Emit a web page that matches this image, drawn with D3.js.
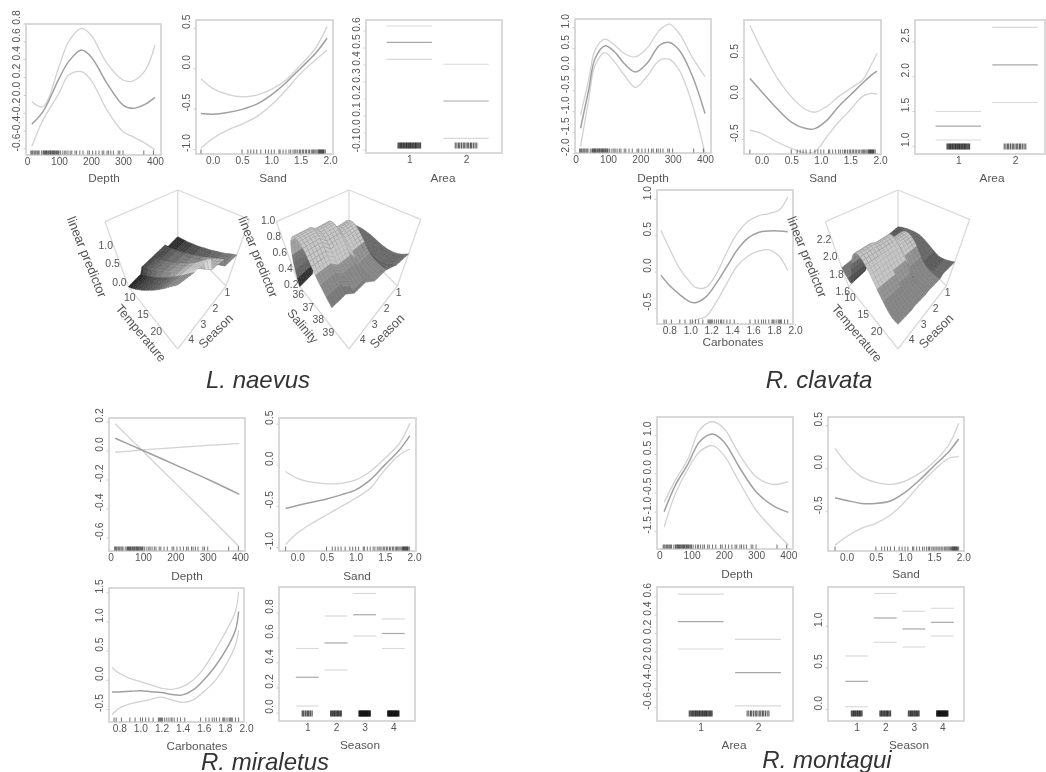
<!DOCTYPE html>
<html><head><meta charset="utf-8">
<script src="https://cdn.jsdelivr.net/npm/d3@7"></script>
<style>html,body{margin:0;padding:0;background:#fff}svg{display:block;filter:blur(.7px)}text{font-family:"Liberation Sans",Arial,sans-serif;fill:#555}</style>
</head><body><svg id="c" width="1046" height="772"></svg>
<script>
// ---------- rug values (observations along each covariate)
const depthRug=[12,15,18,22,25,28,32,35,38,45,50,52,55,57,59,61,63,66,68,71,73,75,78,80,83,85,87,90,92,95,98,100,105,112,118,122,128,135,140,150,155,165,175,190,195,205,215,225,235,240,250,255,262,270,285,290,300,365,395];
const sandRug=[-0.2,.5,.6,.65,.7,.75,.82,.9,.95,1.0,1.05,1.13,1.15,1.2,1.25,1.3,1.33,1.37,1.4,1.42,1.45,1.48,1.5,1.53,1.55,1.58,1.6,1.63,1.65,1.68,1.7,1.72,1.74,1.76,1.78,1.8,1.81,1.82,1.83,1.84,1.85,1.86,1.87,1.88,1.89,1.9,1.92];
const carbRug=[.75,.77,.82,.9,.95,1.0,1.02,1.05,1.08,1.12,1.17,1.18,1.19,1.2,1.21,1.23,1.25,1.27,1.29,1.3,1.32,1.35,1.38,1.42,1.57,1.62,1.65,1.68,1.7,1.72,1.75,1.78,1.79,1.8,1.82,1.84,1.85,1.86,1.87,1.9,1.93];
const rugDense=[-.2,-.185,-.17,-.155,-.14,-.13,-.115,-.1,-.09,-.075,-.06,-.05,-.035,-.02,-.01,.005,.02,.03,.045,.06,.07,.085,.1,.11,.125,.14,.155,.17,.185,.2];
const rugMid=[-.19,-.16,-.13,-.11,-.08,-.05,-.03,0,.03,.05,.08,.1,.13,.16,.19];
const rugSparse=[-.18,-.15,-.12,-.07,-.04,.01,.04,.09,.12,.17];

// ---------- L. naevus
const lnDepthX=[15,50,100,130,170,200,250,300,330,370,400];
const lnDepthFit=[-.40,-.26,.11,.30,.43,.355,.057,-.186,-.223,-.175,-.10];
const lnDepthUp=[-.15,-.205,.243,.523,.672,.598,.28,.094,.083,.206,.486];
const lnDepthLo=[-.652,-.354,-.055,.15,.187,.094,-.242,-.484,-.54,-.615,-.69];
const lnSandX=[-.2,0,.25,.5,.75,1,1.25,1.5,1.75,1.95];
const lnSandFit=[-.64,-.65,-.63,-.59,-.525,-.41,-.26,-.08,.10,.29];
const lnSandUp=[-.21,-.33,-.405,-.434,-.413,-.343,-.227,-.04,.165,.434];
const lnSandLo=[-1.07,-.95,-.847,-.773,-.68,-.537,-.35,-.145,.02,.145];
const lnAreaFit=[.492,.147], lnAreaUp=[.588,.363], lnAreaLo=[.392,-.073];

// ---------- R. clavata
const rcDepthX=[15,40,60,90,120,150,185,220,260,290,320,360,400];
const rcDepthFit=[-1.56,-.65,.10,.40,.26,-.02,-.22,-.02,.42,.48,.30,-.30,-1.21];
const rcDepthUp=[-1.25,-.41,.30,.56,.42,.22,.14,.34,.78,.92,.70,.14,-.33];
const rcDepthLo=[-2.0,-.89,-.06,.24,.02,-.29,-.59,-.33,.06,.08,-.17,-.97,-2.16];
const rcSandX=[-.2,0,.25,.5,.75,.9,1.1,1.3,1.5,1.7,1.85,1.95];
const rcSandFit=[.16,0,-.20,-.37,-.45,-.45,-.35,-.18,-.04,.10,.20,.25];
const rcSandUp=[.81,.51,.18,-.06,-.22,-.25,-.18,-.06,.04,.14,.325,.47];
const rcSandLo=[-.47,-.51,-.61,-.69,-.75,-.73,-.55,-.37,-.22,-.06,-.02,-.03];
const rcAreaFit=[1.19,2.07], rcAreaUp=[1.40,2.61], rcAreaLo=[.99,1.53];
const rcCarbX=[.72,.8,.9,1,1.05,1.15,1.25,1.35,1.45,1.55,1.65,1.75,1.85,1.93];
const rcCarbFit=[-.14,-.28,-.41,-.51,-.52,-.44,-.25,-.02,.21,.37,.45,.47,.47,.46];
const rcCarbUp=[.48,.23,-.05,-.24,-.31,-.31,-.12,.18,.44,.60,.68,.71,.76,.94];
const rcCarbLo=[-.85,-.9,-.9,-.82,-.76,-.71,-.51,-.25,-.01,.12,.19,.21,.12,-.08];

// ---------- R. miraletus
const rmDepthX=[14,100,200,300,398];
const rmDepthFit=[.04,-.045,-.144,-.243,-.347];
const rmDepthUp=[-.057,-.04,-.025,-.01,.005];
const rmDepthLo=[.14,-.05,-.27,-.49,-.71];
const rmSandX=[-.2,0,.25,.5,.75,1,1.25,1.5,1.75,1.93];
const rmSandFit=[-.61,-.575,-.534,-.494,-.445,-.385,-.263,-.08,.10,.275];
const rmSandUp=[-.16,-.243,-.29,-.31,-.304,-.263,-.16,0,.18,.425];
const rmSandLo=[-1.05,-.91,-.79,-.69,-.587,-.486,-.364,-.14,.04,.113];
const rmCarbX=[.73,.8,.9,1,1.1,1.2,1.3,1.4,1.5,1.6,1.7,1.8,1.9,1.93];
const rmCarbFit=[-.32,-.32,-.31,-.30,-.315,-.33,-.365,-.37,-.286,-.114,.10,.37,.74,1.06];
const rmCarbUp=[.10,0,-.086,-.143,-.2,-.257,-.274,-.23,-.114,.086,.37,.686,1.06,1.4];
const rmCarbLo=[-.71,-.6,-.526,-.486,-.446,-.41,-.457,-.5,-.457,-.314,-.143,.114,.486,.743];
const rmSeasonFit=[.23,.504,.73,.58], rmSeasonUp=[.46,.72,.90,.696], rmSeasonLo=[0,.288,.56,.46];

// ---------- R. montagui
const moDepthX=[15,50,90,125,165,200,250,300,350,400];
const moDepthFit=[-1.17,-.48,.087,.65,.85,.65,-.04,-.65,-1.0,-1.19];
const moDepthUp=[-.93,-.35,.22,.96,1.17,1.0,.30,-.26,-.46,-.39];
const moDepthLo=[-1.57,-.70,-.04,.39,.55,.30,-.43,-1.13,-1.61,-2.04];
const moSandX=[-.2,0,.25,.5,.75,1,1.25,1.5,1.75,1.92];
const moSandFit=[-.42,-.45,-.485,-.485,-.457,-.357,-.213,-.047,.116,.264];
const moSandUp=[.155,-.02,-.174,-.24,-.264,-.225,-.136,0,.194,.446];
const moSandLo=[-.97,-.87,-.775,-.717,-.62,-.465,-.27,-.1,.04,.058];
const moAreaFit=[.253,-.30], moAreaUp=[.552,.061], moAreaLo=[-.043,-.66];
const moSeasonFit=[.256,1.016,.884,.964], moSeasonUp=[.56,1.31,1.096,1.132], moSeasonLo=[-.048,.724,.668,.80];

// ---------- fitted surfaces: one row per season (1..4), columns evenly spaced along the covariate
const lnTempSurface=[
 [.00,.09,.15,.25,.31,.41,.47,.57,.63,.73,.80],
 [.14,.22,.32,.40,.50,.58,.68,.76,.86,.94,1.03],
 [.14,.26,.36,.48,.60,.70,.82,.92,1.04,1.20,1.34],
 [.00,.12,.25,.38,.50,.64,.76,.90,1.03,1.18,1.31]];
const lnSalSurface=[
 [.46,.51,.53,.53,.51,.50,.51,.54,.61],
 [.30,.63,.84,.84,.72,.61,.54,.53,.53],
 [.26,.71,.95,.95,.83,.67,.58,.53,.49],
 [.22,.71,.97,.97,.87,.67,.58,.50,.45]];
const lnSalEnd=[40.7,40.2,39.7,39.2];
const rcTempSurface=[
 [1.86,1.93,1.97,1.99,1.96,1.93,1.90,1.93,1.97],
 [1.85,1.85,2.08,2.21,2.15,2.03,1.94,1.93,1.94],
 [1.87,1.78,2.11,2.32,2.24,2.09,1.97,1.93,1.93],
 [1.92,1.72,2.15,2.34,2.24,2.09,1.99,1.92,1.92]];

// ---------- tick labels
const depthTicks=[0,100,200,300,400], sandTicks=[0,.5,1,1.5,2], carbTicks=[.8,1,1.2,1.4,1.6,1.8,2];
const seasonLevels=[1,2,3,4], areaLevels=[1,2];

const svg=d3.select('#c');
const fmt1=v=>d3.format('.1f')(v).replace('\u2212','-');
const lineGen=(x,y)=>d3.line().x(d=>x(d[0])).y(d=>y(d[1])).curve(d3.curveCatmullRom.alpha(.5));
const TICK_SHIFT=6.5; // printed y labels sit above their tick marks in the source figure
let clipId=0;

function frame(p){
  const g=svg.append('g');
  g.append('rect').attr('x',p.box[0]).attr('y',p.box[1]).attr('width',p.box[2]-p.box[0]).attr('height',p.box[3]-p.box[1])
   .attr('fill','none').attr('stroke','#d8d8d8').attr('stroke-width',1.9);
  const y=d3.scaleLinear().domain([p.ya[0],p.ya[2]]).range([p.ya[1],p.ya[3]]);
  const ay=g.append('g').attr('transform',`translate(${p.box[0]},${TICK_SHIFT})`)
    .call(d3.axisLeft(y).tickValues(p.yt).tickSize(2.5).tickFormat(fmt1));
  ay.select('.domain').remove();
  ay.selectAll('line').attr('stroke','#ccc');
  ay.selectAll('text').attr('x',0).attr('y',0).attr('dy','.35em').attr('text-anchor','middle')
    .attr('transform',`translate(-10,${-TICK_SHIFT}) rotate(-90)`).style('font-size','10.4px');
  g.append('text').attr('x',p.lab[0]).attr('y',p.lab[1]).attr('text-anchor','middle').attr('dy','.35em')
    .style('font-size','11.8px').text(p.name);
  return {g,y};
}
function xAxis(g,p,x,ticks,f){
  const a=g.append('g').attr('transform',`translate(0,${p.box[3]})`)
    .call(d3.axisBottom(x).tickValues(ticks).tickSize(1.5).tickFormat(f));
  a.select('.domain').remove();
  a.selectAll('line').attr('stroke','#ccc');
  a.selectAll('text').attr('y',6).attr('dy','.35em').style('font-size','10.2px');
}
function curvePanel(p){
  const {g,y}=frame(p);
  const x=d3.scaleLinear().domain([p.xa[0],p.xa[2]]).range([p.xa[1],p.xa[3]]);
  xAxis(g,p,x,p.xt,p.xf);
  const id='cl'+(clipId++);
  svg.append('clipPath').attr('id',id).append('rect').attr('x',p.box[0]).attr('y',p.box[1]).attr('width',p.box[2]-p.box[0]).attr('height',p.box[3]-p.box[1]);
  const L=lineGen(x,y), c=g.append('g').attr('clip-path',`url(#${id})`).attr('fill','none');
  [[p.up,'#d2d2d2',1.3],[p.lo,'#d2d2d2',1.3],[p.fit,'#a0a0a0',1.5]].forEach(([v,col,w])=>{
    c.append('path').attr('d',L(p.xs.map((d,i)=>[d,v[i]]))).attr('stroke',col).attr('stroke-width',w);
  });
  g.append('g').selectAll('line').data(p.rug).join('line')
   .attr('x1',d=>x(d)).attr('x2',d=>x(d)).attr('y1',p.box[3]-4.5).attr('y2',p.box[3]-.5)
   .attr('stroke','#111').attr('stroke-width',1).attr('stroke-opacity',.6);
}
function levelPanel(p){
  const {g,y}=frame(p);
  const x=d3.scaleLinear().domain([p.levels[0],p.levels[p.levels.length-1]]).range(p.xr);
  xAxis(g,p,x,p.levels,d3.format('d'));
  const segs=(vals,col,w)=>g.append('g').selectAll('line').data(vals).join('line')
    .attr('x1',(d,i)=>x(p.levels[i]-.4)).attr('x2',(d,i)=>x(p.levels[i]+.4))
    .attr('y1',d=>y(d)).attr('y2',d=>y(d)).attr('stroke',col).attr('stroke-width',w);
  segs(p.up,'#d8d8d8',1.1); segs(p.lo,'#d8d8d8',1.1); segs(p.fit,'#a8a8a8',1.2);
  p.rugs.forEach((r,i)=>{
    g.append('g').selectAll('line').data(r).join('line')
     .attr('x1',d=>x(p.levels[i]+d)).attr('x2',d=>x(p.levels[i]+d))
     .attr('y1',p.box[3]-10.5).attr('y2',p.box[3]-4.5)
     .attr('stroke','#000').attr('stroke-width',1.1).attr('stroke-opacity',.65);
  });
}

const panels=[
 {t:'c',name:'Depth',box:[26,24,161,155],xa:[0,27,400,155],ya:[-.6,142,.8,17],yt:[-.6,-.4,-.2,0,.2,.4,.6,.8],xt:depthTicks,xf:d3.format('d'),lab:[104,178],xs:lnDepthX,fit:lnDepthFit,up:lnDepthUp,lo:lnDepthLo,rug:depthRug},
 {t:'c',name:'Sand',box:[196,20,333,154],xa:[0,212.7,2,330],ya:[0,61.7,.5,21.3],yt:[-1,-.5,0,.5],xt:sandTicks,xf:fmt1,lab:[273,178],xs:lnSandX,fit:lnSandFit,up:lnSandUp,lo:lnSandLo,rug:sandRug},
 {t:'l',name:'Area',box:[366,20,502,153],xr:[409.3,466],ya:[0,126,.6,24],yt:[-.1,0,.1,.2,.3,.4,.5,.6],lab:[443,178],levels:areaLevels,fit:lnAreaFit,up:lnAreaUp,lo:lnAreaLo,rugs:[rugDense,rugMid]},
 {t:'c',name:'Depth',box:[575,19,711,153],xa:[0,575.7,400,705],ya:[0,62.7,1,20.7],yt:[-2,-1.5,-1,-.5,0,.5,1],xt:depthTicks,xf:d3.format('d'),lab:[653,178],xs:rcDepthX,fit:rcDepthFit,up:rcDepthUp,lo:rcDepthLo,rug:depthRug},
 {t:'c',name:'Sand',box:[744,20,881,154],xa:[0,761.7,2,880],ya:[0,91.7,.5,50.7],yt:[-.5,0,.5],xt:sandTicks,xf:fmt1,lab:[823,178],xs:rcSandX,fit:rcSandFit,up:rcSandUp,lo:rcSandLo,rug:sandRug},
 {t:'l',name:'Area',box:[915,20,1045,154],xr:[958.3,1015],ya:[1,139.3,2.5,35],yt:[1,1.5,2,2.5],lab:[992,178],levels:areaLevels,fit:rcAreaFit,up:rcAreaUp,lo:rcAreaLo,rugs:[rugDense,rugMid]},
 {t:'c',name:'Carbonates',box:[657,190,793,324],xa:[.8,669.3,2,795],ya:[0,265,.5,228.8],yt:[-.5,0,.5,1],xt:carbTicks,xf:fmt1,lab:[733,342],xs:rcCarbX,fit:rcCarbFit,up:rcCarbUp,lo:rcCarbLo,rug:carbRug},
 {t:'c',name:'Depth',box:[109,418,245,551],xa:[0,110.7,400,240],ya:[0,444,.2,415],yt:[-.6,-.4,-.2,0,.2],xt:depthTicks,xf:d3.format('d'),lab:[187,576],xs:rmDepthX,fit:rmDepthFit,up:rmDepthUp,lo:rmDepthLo,rug:depthRug},
 {t:'c',name:'Sand',box:[279,418,416,551],xa:[0,297.3,2,414],ya:[0,458.3,.5,417.2],yt:[-1,-.5,0,.5],xt:sandTicks,xf:fmt1,lab:[357,576],xs:rmSandX,fit:rmSandFit,up:rmSandUp,lo:rmSandLo,rug:sandRug},
 {t:'c',name:'Carbonates',box:[109,588,244,722],xa:[.8,119.3,2,246],ya:[0,673.3,1,615],yt:[-.5,0,.5,1,1.5],xt:carbTicks,xf:fmt1,lab:[197,746],xs:rmCarbX,fit:rmCarbFit,up:rmCarbUp,lo:rmCarbLo,rug:carbRug},
 {t:'l',name:'Season',box:[279,587,415,721],xr:[307.3,393.3],ya:[0,706,.8,606],yt:[0,.2,.4,.6,.8],lab:[360,745],levels:seasonLevels,fit:rmSeasonFit,up:rmSeasonUp,lo:rmSeasonLo,rugs:[rugSparse,rugMid,rugDense,rugDense]},
 {t:'c',name:'Depth',box:[657,417,793,549],xa:[0,659.3,400,788.3],ya:[0,466.7,1,428.3],yt:[-1.5,-1,-.5,0,.5,1],xt:depthTicks,xf:d3.format('d'),lab:[737,574],xs:moDepthX,fit:moDepthFit,up:moDepthUp,lo:moDepthLo,rug:depthRug},
 {t:'c',name:'Sand',box:[828,417,964,551],xa:[0,846.7,2,963.3],ya:[0,461.7,.5,418.7],yt:[-.5,0,.5],xt:sandTicks,xf:fmt1,lab:[906,574],xs:moSandX,fit:moSandFit,up:moSandUp,lo:moSandLo,rug:sandRug},
 {t:'l',name:'Area',box:[657,587,793,721],xr:[700.7,758],ya:[0,645,.6,589.7],yt:[-.6,-.4,-.2,0,.2,.4,.6],lab:[734,745],levels:areaLevels,fit:moAreaFit,up:moAreaUp,lo:moAreaLo,rugs:[rugDense,rugMid]},
 {t:'l',name:'Season',box:[828,587,964,721],xr:[856.7,942.3],ya:[0,702.7,1,619.3],yt:[0,.5,1],lab:[909,745],levels:seasonLevels,fit:moSeasonFit,up:moSeasonUp,lo:moSeasonLo,rugs:[rugMid,rugMid,rugMid,rugDense]}
];
panels.forEach(p=>p.t==='c'?curvePanel(p):levelPanel(p));

// ---------- 3-D panels
function surfacePanel(s){
  const cx=s.cx;
  const C={b0:[cx,236.7],l0:[cx-49.3,286.7],f0:[cx,349],r0:[cx+48.3,286],b1:[cx,190],l1:[cx-72.7,221.7],r1:[cx+71.7,219.3],f1:[cx,265]};
  const mix=(a,b,t)=>[a[0]+(b[0]-a[0])*t,a[1]+(b[1]-a[1])*t];
  const P=(u,v,w)=>{const f=mix(mix(C.b0,C.r0,u),mix(C.l0,C.f0,u),v),t=mix(mix(C.b1,C.r1,u),mix(C.l1,C.f1,u),v);return mix(f,t,w);};
  const g=svg.append('g');
  const wire=[[C.b1,C.l1],[C.b1,C.r1],[C.b1,C.b0],[C.l1,C.l0],[C.r1,C.r0],[C.l0,C.f0],[C.f0,C.r0],[C.b0,C.l0],[C.b0,C.r0]];
  g.append('g').selectAll('line').data(wire).join('line')
   .attr('x1',d=>d[0][0]).attr('y1',d=>d[0][1]).attr('x2',d=>d[1][0]).attr('y2',d=>d[1][1])
   .attr('stroke','#dadada').attr('stroke-width',1.3);
  const uS=d3.scaleLinear().domain(s.uDomain).range([0,1]);
  const vS=d3.scaleLinear().domain([.5,4.5]).range([0,1]);
  const wS=d3.scaleLinear().domain(s.zDomain).range([0,1]);
  const zGray=d3.scaleThreshold().domain(s.bands).range(s.grays);
  // rows: every season is a flat band across its width, with a short ramp to the next
  const rows=[]; s.m.forEach((r,i)=>{[-.5,-.3,-.1,.1,.3].forEach(o=>rows.push({k:i,v:vS(i+1+o)}));});
  rows.push({k:3,v:1});
  const sub=s.sub, nu=(s.m[0].length-1)*sub;
  const interp=s.m.map(r=>d3.interpolateBasis(r));
  const pt=(ri,j)=>{const r=rows[ri],t=j/nu,end=s.ends?s.ends[r.k]:s.uDomain[1],start=s.uDomain[0];
    const u=uS(start+(end-start)*t),z=interp[r.k](t);return {u,v:r.v,z,w:wS(z),p:P(u,r.v,wS(z))};};
  const facets=[];
  for(let i=0;i<rows.length-1;i++)for(let j=0;j<nu;j++){
    const a=pt(i,j),b=pt(i,j+1),c=pt(i+1,j+1),d=pt(i+1,j);
    const su=(b.w-a.w)/Math.max(.01,b.u-a.u);
    const z=(a.z+b.z+c.z+d.z)/4;
    const col=d3.rgb(zGray(z));
    const f=s.rowShade[rows[i].k]*(su>s.riseAt?s.riseK:1);
    facets.push({o:a.u+a.v+c.u+c.v,pts:[a.p,b.p,c.p,d.p],fill:col.copy({r:col.r*f,g:col.g*f,b:col.b*f}).formatHex(),line:col.copy({r:col.r*f*.8,g:col.g*f*.8,b:col.b*f*.8}).formatHex()});
  }
  facets.sort((a,b)=>a.o-b.o);
  g.append('g').selectAll('path').data(facets).join('path')
   .attr('d',f=>'M'+f.pts.map(q=>q.join(',')).join('L')+'Z')
   .attr('fill',f=>f.fill).attr('stroke',f=>f.line).attr('stroke-width',.4);
  // tick labels on the box edges
  const tick=(txt,pos,dx,dy)=>g.append('text').attr('x',pos[0]+dx).attr('y',pos[1]+dy).attr('text-anchor','middle').attr('dy','.35em').style('font-size','10.4px').text(txt);
  s.zTicks.forEach(z=>tick(fmt1(z),P(0,1,wS(z)),-9,-4));
  s.uTicks.forEach(t=>tick(d3.format('d')(t),P(uS(t),1,0),-3.5,5));
  seasonLevels.forEach(k=>tick(k,P(1,vS(k),0),7.5,-1.5));
  const lab=(txt,pos,a,fs)=>g.append('text').attr('transform',`translate(${pos[0]},${pos[1]}) rotate(${a})`).attr('text-anchor','middle').attr('dy','.35em').style('font-size',fs+'px').text(txt);
  lab('linear predictor',[cx-90.7,257],68,13);
  lab(s.uName,s.uLab,50,12.6);
  lab('Season',[cx+38,331],-45,12.6);
}
const humpBands=w=>w;
surfacePanel({cx:177.7,m:lnTempSurface,uDomain:[8.2,26.7],zDomain:[0,1.72],zTicks:[0,.5,1],uTicks:[10,15,20],uName:'Temperature',uLab:[141,333],sub:2,
  bands:[.12,.25,.38,.5,.64,.78,.92,1.06],grays:['#333333','#484848','#5a5a5a','#696969','#777777','#858585','#969696','#b0b0b0','#cfcfcf'],rowShade:[.9,1.05,1.05,.72],riseAt:9,riseK:1});
surfacePanel({cx:349,m:lnSalSurface,ends:lnSalEnd,uDomain:[35.8,40.7],zDomain:[.22,1.03],zTicks:[.2,.4,.6,.8,1],uTicks:[36,37,38,39],uName:'Salinity',uLab:[303,326],sub:4,
  bands:[.3,.4,.5,.58,.66],grays:['#3e3e3e','#5e5e5e','#7c7c7c','#8a8a8a','#959595','#c8c8c8'],rowShade:[.78,1,1,1],riseAt:2.5,riseK:.82});
surfacePanel({cx:898,m:rcTempSurface,uDomain:[8.2,26.7],zDomain:[1.7,2.45],zTicks:[1.6,1.8,2,2.2],uTicks:[10,15,20],uName:'Temperature',uLab:[857,333],sub:4,
  bands:[1.76,1.84,1.92,2.0,2.08],grays:['#3e3e3e','#5a5a5a','#767676','#888888','#959595','#c6c6c6'],rowShade:[.78,1,1,1],riseAt:1.5,riseK:.72});

// ---------- species titles
const titleNames=['L. naevus','R. clavata','R. miraletus','R. montagui'];
const titleAt=[[258,388],[819,388],[265,770],[827,768]];
svg.selectAll('.title').data(titleNames).join('text').attr('class','title')
  .attr('x',(d,i)=>titleAt[i][0]).attr('y',(d,i)=>titleAt[i][1]).attr('text-anchor','middle')
  .style('font-size','24px').style('font-style','italic').style('fill','#333').text(d=>d);
</script></body></html>
